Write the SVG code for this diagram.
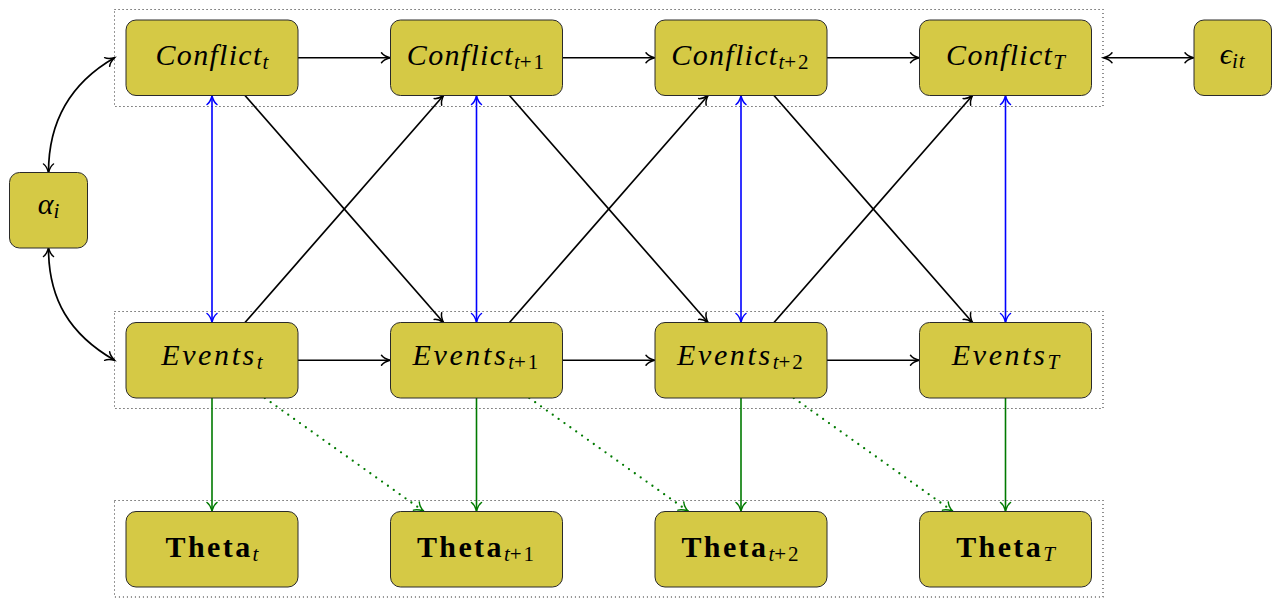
<svg xmlns="http://www.w3.org/2000/svg" width="1279" height="598" viewBox="0 0 1279 598">
  <style>
    .node { fill: #D5C945; stroke: #2a2a2a; stroke-width: 1; }
    .grp { fill: none; stroke: #333; stroke-width: 1.1; stroke-dasharray: 1.1 2.9; }
    .lbl { font-family: "Liberation Serif", "DejaVu Serif", serif; font-size: 30px; fill: #000; text-anchor: middle; }
    .mi { font-style: italic; }
    .bf { font-weight: bold; letter-spacing: 2.4px; }
    .sub { font-size: 21px; }
    .k { fill: none; stroke: #000; stroke-width: 1.7; marker-end: url(#ah-k); }
    .b { fill: none; stroke: #0000FF; stroke-width: 1.6; marker-start: url(#ah-b); marker-end: url(#ah-b); }
    .g { fill: none; stroke: #007A00; stroke-width: 1.6; marker-end: url(#ah-g); }
    .gd { fill: none; stroke: #007A00; stroke-width: 2.3; stroke-linecap: round; stroke-dasharray: 0 7.2; marker-end: url(#ah-g); }
    .kk { fill: none; stroke: #000; stroke-width: 1.7; marker-start: url(#ah-k); marker-end: url(#ah-k); }
  </style>
  <defs>
    <marker id="ah-k" markerUnits="userSpaceOnUse" viewBox="-11 -7 13 14" markerWidth="13" markerHeight="14" refX="0" refY="0" orient="auto-start-reverse" overflow="visible">
      <path d="M-8.5,-5 C-6.8,-2.6 -2.8,-0.8 0,0 C-2.8,0.8 -6.8,2.6 -8.5,5" fill="none" stroke="#000" stroke-width="1.5" stroke-linecap="round"/>
    </marker>
    <marker id="ah-b" markerUnits="userSpaceOnUse" viewBox="-11 -7 13 14" markerWidth="13" markerHeight="14" refX="0" refY="0" orient="auto-start-reverse" overflow="visible">
      <path d="M-8.5,-5 C-6.8,-2.6 -2.8,-0.8 0,0 C-2.8,0.8 -6.8,2.6 -8.5,5" fill="none" stroke="#0000FF" stroke-width="1.5" stroke-linecap="round"/>
    </marker>
    <marker id="ah-g" markerUnits="userSpaceOnUse" viewBox="-11 -7 13 14" markerWidth="13" markerHeight="14" refX="0" refY="0" orient="auto-start-reverse" overflow="visible">
      <path d="M-8.5,-5 C-6.8,-2.6 -2.8,-0.8 0,0 C-2.8,0.8 -6.8,2.6 -8.5,5" fill="none" stroke="#007A00" stroke-width="1.5" stroke-linecap="round" stroke-dasharray="none"/>
    </marker>
  </defs>

  <!-- fitted dotted frames around each row -->
  <g id="frames">
    <rect class="grp" x="114.5" y="9.5" width="988.5" height="97"/>
    <rect class="grp" x="114.5" y="311.5" width="988.5" height="97"/>
    <rect class="grp" x="114.5" y="500.5" width="988.5" height="96.5"/>
  </g>

  <!-- connectors -->
  <g id="connectors">
    <!-- temporal chains -->
    <path class="k" d="M298,57.75 H390"/>
    <path class="k" d="M562.5,57.75 H654.5"/>
    <path class="k" d="M827,57.75 H919"/>
    <path class="k" d="M298,360.25 H390"/>
    <path class="k" d="M562.5,360.25 H654.5"/>
    <path class="k" d="M827,360.25 H919"/>
    <!-- cross-lagged effects -->
    <path class="k" d="M245,95.5 L443.5,322.5"/>
    <path class="k" d="M509.5,95.5 L708,322.5"/>
    <path class="k" d="M774,95.5 L972.5,322.5"/>
    <path class="k" d="M245,322.5 L443.5,95.5"/>
    <path class="k" d="M509.5,322.5 L708,95.5"/>
    <path class="k" d="M774,322.5 L972.5,95.5"/>
    <!-- contemporaneous links -->
    <path class="b" d="M212,96 V322"/>
    <path class="b" d="M476.5,96 V322"/>
    <path class="b" d="M741,96 V322"/>
    <path class="b" d="M1005.5,96 V322"/>
    <!-- events to theta -->
    <path class="g" d="M212,398 V511"/>
    <path class="g" d="M476.5,398 V511"/>
    <path class="g" d="M741,398 V511"/>
    <path class="g" d="M1005.5,398 V511"/>
    <path class="gd" d="M264.8,398 L423.3,511"/>
    <path class="gd" d="M529.3,398 L687.8,511"/>
    <path class="gd" d="M793.8,398 L952.3,511"/>
    <!-- random intercept and error -->
    <path class="kk" d="M48.5,172.5 C48.5,121 69.8,83.5 114.5,57.75"/>
    <path class="kk" d="M48.5,248 C48.5,299.5 69.8,334.5 114.5,360.25"/>
    <path class="kk" d="M1103.5,57.75 H1193.5"/>
  </g>

  <!-- conflict row -->
  <g id="conflict-t">
    <rect class="node" x="126" y="20" width="172" height="75.5" rx="10"/>
    <text class="lbl" x="212" y="65"><tspan class="mi" letter-spacing="1.3">Conflict</tspan><tspan class="sub mi" dy="4">t</tspan></text>
  </g>
  <g id="conflict-t1">
    <rect class="node" x="390.5" y="20" width="172" height="75.5" rx="10"/>
    <text class="lbl" x="476.5" y="65"><tspan class="mi" letter-spacing="1.3">Conflict</tspan><tspan class="sub mi" dy="4">t</tspan><tspan class="sub" letter-spacing="2">+1</tspan></text>
  </g>
  <g id="conflict-t2">
    <rect class="node" x="655" y="20" width="172" height="75.5" rx="10"/>
    <text class="lbl" x="741" y="65"><tspan class="mi" letter-spacing="1.3">Conflict</tspan><tspan class="sub mi" dy="4">t</tspan><tspan class="sub" letter-spacing="2">+2</tspan></text>
  </g>
  <g id="conflict-T">
    <rect class="node" x="919.5" y="20" width="172" height="75.5" rx="10"/>
    <text class="lbl" x="1005.5" y="65"><tspan class="mi" letter-spacing="1.3">Conflict</tspan><tspan class="sub mi" dy="4">T</tspan></text>
  </g>
  <g id="epsilon">
    <rect class="node" x="1194" y="20" width="77.5" height="75.5" rx="10"/>
    <text class="lbl" x="1232.7" y="64"><tspan class="mi">ϵ</tspan><tspan class="sub mi" dy="4" letter-spacing="1">it</tspan></text>
  </g>

  <!-- random intercept -->
  <g id="alpha">
    <rect class="node" x="9.5" y="172.5" width="78" height="75.5" rx="10"/>
    <text class="lbl" x="48.5" y="213.5"><tspan class="mi">α</tspan><tspan class="sub mi" dy="4">i</tspan></text>
  </g>

  <!-- events row -->
  <g id="events-t">
    <rect class="node" x="126" y="322.5" width="172" height="75.5" rx="10"/>
    <text class="lbl" x="212" y="365"><tspan class="mi" letter-spacing="2.6">Events</tspan><tspan class="sub mi" dy="4">t</tspan></text>
  </g>
  <g id="events-t1">
    <rect class="node" x="390.5" y="322.5" width="172" height="75.5" rx="10"/>
    <text class="lbl" x="476.5" y="365"><tspan class="mi" letter-spacing="2.6">Events</tspan><tspan class="sub mi" dy="4">t</tspan><tspan class="sub" letter-spacing="2">+1</tspan></text>
  </g>
  <g id="events-t2">
    <rect class="node" x="655" y="322.5" width="172" height="75.5" rx="10"/>
    <text class="lbl" x="741" y="365"><tspan class="mi" letter-spacing="2.6">Events</tspan><tspan class="sub mi" dy="4">t</tspan><tspan class="sub" letter-spacing="2">+2</tspan></text>
  </g>
  <g id="events-T">
    <rect class="node" x="919.5" y="322.5" width="172" height="75.5" rx="10"/>
    <text class="lbl" x="1005.5" y="365"><tspan class="mi" letter-spacing="2.6">Events</tspan><tspan class="sub mi" dy="4">T</tspan></text>
  </g>

  <!-- theta row -->
  <g id="theta-t">
    <rect class="node" x="126" y="511.5" width="172" height="75.5" rx="10"/>
    <text class="lbl" x="212" y="556.5"><tspan class="bf">Theta</tspan><tspan class="sub mi" dy="4">t</tspan></text>
  </g>
  <g id="theta-t1">
    <rect class="node" x="390.5" y="511.5" width="172" height="75.5" rx="10"/>
    <text class="lbl" x="476.5" y="556.5"><tspan class="bf">Theta</tspan><tspan class="sub mi" dy="4">t</tspan><tspan class="sub" letter-spacing="2">+1</tspan></text>
  </g>
  <g id="theta-t2">
    <rect class="node" x="655" y="511.5" width="172" height="75.5" rx="10"/>
    <text class="lbl" x="741" y="556.5"><tspan class="bf">Theta</tspan><tspan class="sub mi" dy="4">t</tspan><tspan class="sub" letter-spacing="2">+2</tspan></text>
  </g>
  <g id="theta-T">
    <rect class="node" x="919.5" y="511.5" width="172" height="75.5" rx="10"/>
    <text class="lbl" x="1005.5" y="556.5"><tspan class="bf">Theta</tspan><tspan class="sub mi" dy="4">T</tspan></text>
  </g>
</svg>
